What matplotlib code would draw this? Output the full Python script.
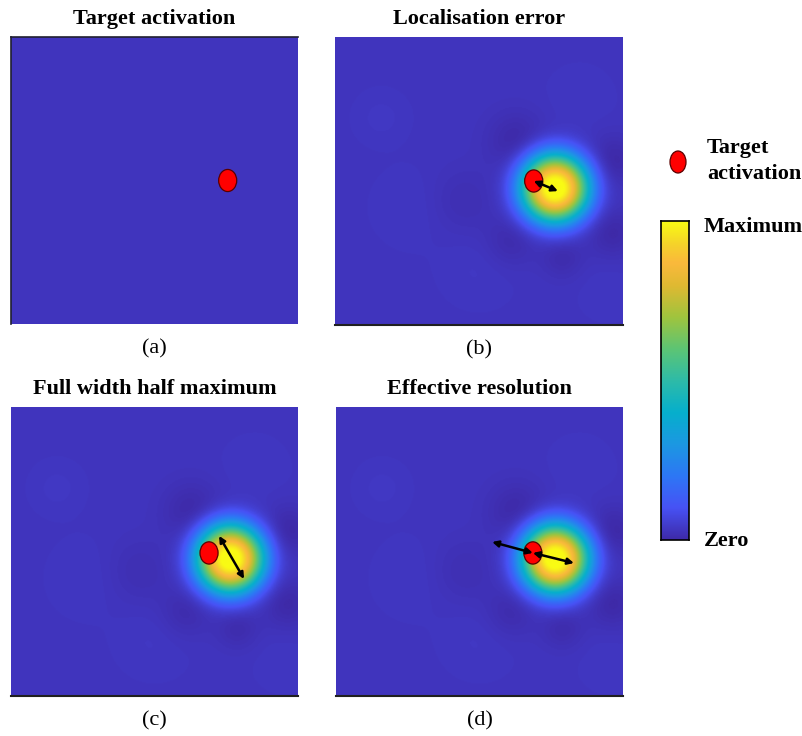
import numpy as np
import matplotlib
matplotlib.use("Agg")
import matplotlib.pyplot as plt
from matplotlib.colors import LinearSegmentedColormap
from matplotlib.patches import Ellipse

plt.rcParams['font.family'] = ['Liberation Serif', 'DejaVu Serif']

# parula-like colour ramp
ramp_pos = [0.0, 0.10, 0.20, 0.30, 0.40, 0.50, 0.60, 0.70, 0.80, 0.87, 0.93, 1.0]
ramp_col = ['#3e2aa8', '#4752f5', '#2d77f5', '#1c98e2', '#06afcc', '#2ebba8',
            '#5dc574', '#a0c43e', '#e0b932', '#fab93c', '#f5d32a', '#f9fb14']
parula = LinearSegmentedColormap.from_list('parula', list(zip(ramp_pos, ramp_col)))

titles = ['Target activation', 'Localisation error', 'Full width half maximum', 'Effective resolution']
letters = ['(a)', '(b)', '(c)', '(d)']

# panel-normalised coordinates (x from left, y from top)
background_level = 0.03
peak_xy = (0.765, 0.525)
peak_radius = 0.118
peak_shape = 2.6
# faint side lobes: x, y, sigma, amplitude
lobes_x = [0.63, 0.965, 0.445, 0.61, 0.965, 0.79, 0.16, 0.27, 0.50, 0.85, 0.95]
lobes_y = [0.36, 0.43, 0.57, 0.71, 0.68, 0.765, 0.28, 0.59, 0.80, 0.22, 0.88]
lobes_s = [0.07, 0.06, 0.08, 0.06, 0.06, 0.05, 0.06, 0.09, 0.09, 0.08, 0.07]
lobes_a = [-0.028, -0.03, -0.015, -0.022, -0.028, -0.022, 0.007, 0.006, 0.006, 0.005, 0.005]
has_peak = [False, True, True, True]

dot_x = [0.755, 0.69, 0.69, 0.686]
dot_y = [0.50, 0.50, 0.505, 0.505]
dot_w, dot_h = 0.063, 0.077

# double-headed arrows per panel: (x0, y0, x1, y1)
arrows = [
    [],
    [(0.69, 0.50, 0.774, 0.535)],
    [(0.725, 0.446, 0.812, 0.595)],
    [(0.544, 0.467, 0.686, 0.505), (0.686, 0.505, 0.829, 0.54)],
]

# panel boxes in pixels: left, top, right, bottom
boxes = [(11, 37, 298, 324), (335, 37, 623, 325), (11, 407, 298, 696), (336, 407, 623, 696)]
W, H = 803, 736

n = 300
gx, gy = np.meshgrid(np.linspace(0, 1, n), np.linspace(0, 1, n))
field = np.full((n, n), background_level)
for x, y, s, a in zip(lobes_x, lobes_y, lobes_s, lobes_a):
    field += a * np.exp(-((gx - x) ** 2 + (gy - y) ** 2) / (2 * s ** 2))
r = np.hypot(gx - peak_xy[0], gy - peak_xy[1])
field += np.exp(-(r / peak_radius) ** peak_shape)
flat = np.full((n, n), background_level)

fig = plt.figure(figsize=(W / 100, H / 100), dpi=100)

for i in range(4):
    l, t, rr, b = boxes[i]
    ax = fig.add_axes([l / W, 1 - b / H, (rr - l) / W, (b - t) / H])
    img = field if has_peak[i] else flat
    ax.imshow(img, cmap=parula, vmin=0, vmax=1, extent=(0, 1, 1, 0),
              interpolation='bilinear', aspect='auto')
    ax.set_xlim(0, 1)
    ax.set_ylim(1, 0)
    ax.set_xticks([])
    ax.set_yticks([])
    for side in ax.spines:
        ax.spines[side].set_visible(False)
    if i == 0:
        for side in ['top', 'left']:
            ax.spines[side].set_visible(True)
            ax.spines[side].set_color('#202030')
            ax.spines[side].set_linewidth(1.2)
    else:
        ax.spines['bottom'].set_visible(True)
        ax.spines['bottom'].set_color('#202020')
        ax.spines['bottom'].set_linewidth(1.5)
    ax.add_patch(Ellipse((dot_x[i], dot_y[i]), dot_w, dot_h, facecolor='#ff0000',
                         edgecolor='#5a0000', lw=0.9, zorder=3))
    for x0, y0, x1, y1 in arrows[i]:
        ax.annotate('', xy=(x1, y1), xytext=(x0, y0),
                    arrowprops=dict(arrowstyle='<|-|>', color='black', lw=1.8,
                                    mutation_scale=9, shrinkA=0, shrinkB=0),
                    zorder=4)
    cx = (l + rr) / 2 / W
    fig.text(cx, 1 - (t - 18) / H, titles[i], ha='center', va='center',
             fontsize=16, fontweight='bold')
    fig.text(cx, 1 - (b + 25) / H, letters[i], ha='center', va='center', fontsize=16)

# colour bar
cax = fig.add_axes([661 / W, 1 - 540 / H, 28 / W, 319 / H])
grad = np.linspace(0, 1, 256)[:, None]
cax.imshow(grad, cmap=parula, aspect='auto', origin='lower', extent=(0, 1, 0, 1))
cax.set_xticks([])
cax.set_yticks([])
for side in cax.spines:
    cax.spines[side].set_color('black')
    cax.spines[side].set_linewidth(1.2)

fig.text(704 / W, 1 - 227 / H, 'Maximum', ha='left', va='center', fontsize=16, fontweight='bold')
fig.text(704 / W, 1 - 541 / H, 'Zero', ha='left', va='center', fontsize=16, fontweight='bold')

# legend marker
fig.add_artist(Ellipse((678 / W, 1 - 162 / H), 16 / W, 22 / H, transform=fig.transFigure,
                       facecolor='#ff0000', edgecolor='#5a0000', lw=0.9))
fig.text(707 / W, 1 - 148 / H, 'Target', ha='left', va='center', fontsize=16, fontweight='bold')
fig.text(707 / W, 1 - 174 / H, 'activation', ha='left', va='center', fontsize=16, fontweight='bold')

fig.savefig('out.png', dpi=100)
